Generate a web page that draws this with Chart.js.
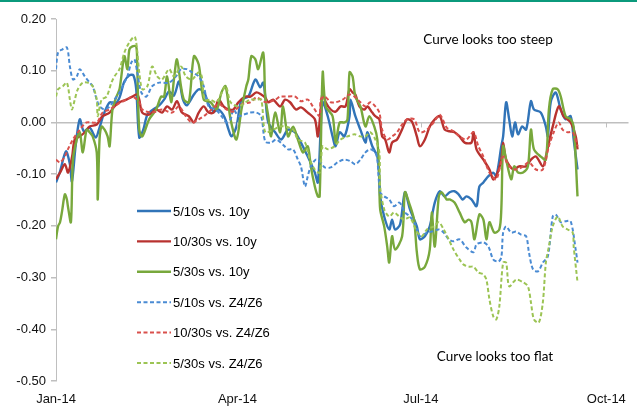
<!DOCTYPE html>
<html>
<head>
<meta charset="utf-8">
<script src="https://cdn.jsdelivr.net/npm/chart.js@4.4.1/dist/chart.umd.min.js"></script>
<style>
  html, body { margin: 0; padding: 0; background: #fff; }
  #wrap { width: 637px; height: 407px; position: relative; }
</style>
</head>
<body>
<div id="wrap"><canvas id="lineChart"></canvas></div>
<script>
// x values are days since 1 Jan 2014
var xTickDays = [0, 90, 181, 273];
var xTickLabels = ["Jan-14", "Apr-14", "Jul-14", "Oct-14"];
var seriesNames = ["5/10s vs. 10y", "10/30s vs. 10y", "5/30s vs. 10y", "5/10s vs. Z4/Z6", "10/30s vs. Z4/Z6", "5/30s vs. Z4/Z6"];

var s510Days = [0,2,4.9,6.9,7.9,9.8,11.8,13.8,16.7,19.7,21.6,23.6,26.6,29.5,31.5,33.9,36.4,38.4,39.8,41.3,43.3,45.3,48.2,51.2,53.6,56.1,58.5,61,63,64.9,68.4,70.8,73.3,75.7,78.2,80.7,83.6,85.6,87.1,89.5,92,95.4,98.9,101.3,102.8,103.8,105.3,108.7,111.7,115.1,118.5,121.5,124.9,128.4,129.9,131.3,132.3,134.8,137.2,138.7,140.7,143.1,145.6,146.1,148.5,151,153.5,154.5,156.9,159.4,160.4,160.8,162.8,165.3,166.7,168.2,170.7,173.1,175.6,179,180.5,183,185.4,187.9,190.4,192.8,195.3,197.7,199.7,201.7,203.6,206.1,208.6,210,212,214.5,216.9,218.4,220.9,221.8,223.3,224.8,226.3,227.7,229.2,231.2,233.2,235.6,237.1,240.5,243,244,245.4,247.9,250.4,252.8,255.3,256.8,258.7];
var s510Vals = [-0.116,-0.095,-0.056,-0.081,-0.114,-0.043,0.006,-0.017,-0.010,-0.029,-0.010,0.015,0.039,0.037,0.048,0.079,0.091,0.091,0.064,-0.029,-0.014,0.015,0.025,0.033,0.044,0.060,0.052,0.079,0.044,0.033,0.054,0.064,0.060,0.035,0.021,0.025,0.010,-0.014,-0.027,-0.008,0.044,0.050,0.083,0.068,0.077,0.050,0,-0.019,-0.033,-0.014,-0.019,-0.039,-0.066,-0.097,-0.116,-0.014,0.039,0.012,-0.027,-0.046,-0.019,-0.027,0.012,0.044,0.012,-0.014,-0.039,-0.019,-0.046,-0.066,-0.110,-0.143,-0.182,-0.207,-0.188,-0.207,-0.197,-0.135,-0.168,-0.201,-0.226,-0.220,-0.201,-0.155,-0.133,-0.143,-0.135,-0.133,-0.139,-0.149,-0.143,-0.149,-0.162,-0.124,-0.116,-0.104,-0.097,-0.104,-0.046,-0.027,0.039,0.006,-0.027,0,-0.023,-0.008,-0.014,0.041,0.025,0.019,-0.008,-0.027,0.039,0.058,0.025,0.006,0.012,-0.033,-0.091];

var s1030Days = [0,2,4.4,6,8,9.3,11.8,14.3,16.7,20.2,23.1,26.6,29,31.5,34.9,37.9,40.3,41.3,42.8,46.2,49.7,52.6,55.1,57.6,60,62.5,65.9,68.4,70.8,73.3,75.7,78.2,80.7,83.1,85.6,88,90.5,94,96.4,99.4,101.8,103.8,105.3,107.7,111.2,113.6,116.1,119,121.5,124.9,128.4,129.9,131.3,132.3,133.8,136.3,138.7,141.2,143.6,145.6,147.1,148.5,150.5,153,154.5,156.9,158.4,160.4,161.8,163.3,165.3,166.7,169.2,171.6,174.1,176.5,179,180.5,183,185.4,187.9,190.4,192.8,195.3,197.7,200.2,202.7,206.1,207.1,208.6,212,215,216.9,218.4,220.9,221.8,223.3,226.8,229.7,233.2,235.6,238.1,241.5,243,244.5,246.4,249.4,251.8,255.3,257.8,258.7];
var s1030Vals = [-0.110,-0.097,-0.081,-0.097,-0.066,-0.033,-0.027,-0.019,-0.008,-0.004,0.012,0.019,0.031,0.039,0.044,0.050,0.054,0.044,0.019,0.015,0.025,0.019,0.031,0.025,0.041,0.019,0.012,0,0.019,0.031,0.019,0.019,0.044,0.031,0.025,0.025,0.039,0.050,0.050,0.058,0.054,0.048,0.039,0.044,0.031,0.044,0.039,0.025,0.029,0.019,0.006,-0.027,0.025,0.058,0.039,0.025,0.021,0.031,0.031,0.064,0.058,0.054,0.031,0.025,0.031,0.019,0.012,0.006,-0.027,-0.033,-0.058,-0.039,-0.033,-0.014,0.006,0.002,-0.027,-0.046,-0.033,-0.008,0.006,0.012,-0.014,-0.017,-0.019,-0.027,-0.039,-0.039,-0.019,-0.052,-0.072,-0.091,-0.110,-0.104,-0.072,-0.039,-0.072,-0.091,-0.085,-0.085,-0.072,-0.066,-0.085,-0.066,-0.039,-0.008,0.031,0.012,0,-0.027,-0.052];

var s530Days = [0,1,2,3,4.4,5.4,5.9,7.4,8.4,10.3,11.8,13.3,15.2,16.7,18.2,20.2,20.7,21.6,22.6,24.1,25.6,26.6,28,30,31.5,33.9,35.4,36.4,37.9,39.8,40.3,41.3,42.8,46.2,49.7,52.1,53.6,55.1,57.1,58.5,60,62,63.5,65.9,68.4,70.8,73.3,76.7,79.7,82.1,84.1,86.6,89.5,92,94.4,95.4,96.9,98.9,100.3,102.8,103.8,105.3,106.7,108.7,111.2,112.6,115.1,117.6,120,122.5,124.9,126.4,128.4,129.9,130.8,132.3,133.8,137.2,138.7,140.7,143.1,144.6,145.6,147.1,148.5,151,153.5,155.4,157.9,159.4,160.4,160.8,162.8,164.3,165.3,166.7,168.2,171.7,173.1,175.1,177.6,179,180.5,183,185.4,186.4,187.9,189.9,191.3,193.8,195.3,197.7,200.2,202.7,204.6,206.1,207.6,210,212,213.5,215,217.4,219.9,220.9,221.8,223.3,225.8,227.3,229.2,231.7,234.1,235.6,237.1,240.5,243,244.5,246.4,248.9,250.4,252.8,255.3,256.8,258.7];
var s530Vals = [-0.226,-0.201,-0.193,-0.172,-0.139,-0.149,-0.162,-0.193,-0.072,-0.033,-0.019,-0.058,-0.014,-0.019,-0.027,-0.058,-0.149,-0.033,-0.008,-0.014,-0.027,-0.046,0.025,0.050,0.064,0.128,0.103,0.141,0.147,0.147,0.108,-0.014,-0.027,0.006,0.025,0.050,0.050,0.089,0.039,0.083,0.122,0.070,0.044,0.039,0.128,0.112,0.044,0.039,0.025,0.058,0.070,0.006,-0.033,0.025,0.070,0.083,0.128,0.122,0.103,0.135,0.050,0.012,-0.027,0.019,-0.019,0.031,-0.027,-0.008,-0.033,-0.058,-0.046,-0.085,-0.124,-0.143,-0.143,0.097,0.031,0.012,-0.039,0,0,0.006,0.097,0.089,0.050,0.031,-0.008,0.012,-0.008,-0.033,-0.110,-0.168,-0.201,-0.240,-0.271,-0.220,-0.246,-0.220,-0.135,-0.155,-0.188,-0.251,-0.284,-0.279,-0.246,-0.174,-0.240,-0.143,-0.135,-0.149,-0.149,-0.155,-0.174,-0.193,-0.188,-0.193,-0.226,-0.178,-0.188,-0.226,-0.193,-0.213,-0.207,-0.168,-0.046,-0.072,-0.110,-0.085,-0.097,-0.097,-0.085,-0.014,-0.052,-0.066,-0.072,0.025,0.064,0.064,0.050,0.012,0.006,-0.008,-0.143];

var z510Days = [0,1,3,5.4,6.9,8.4,10.3,11.8,14.3,16.7,18.2,20.2,21.6,24.1,26.6,29,31.5,33.9,35.4,37.4,38.9,40.3,42.3,44.8,47.7,51.2,56.1,59.5,62,64.9,67.4,70.8,73.3,75.7,79.2,82.1,84.6,86.6,88,90.5,93,96.4,99.4,101.8,103.8,106.7,109.2,112.6,115.1,117.6,120,121.5,123.5,124.9,126.4,128.9,131.3,133.3,136.3,139.7,143.1,146.1,148.5,151,153.5,155.9,158.4,159.4,160.8,162.8,165.3,167.7,170.2,171.7,173.1,175.6,178.1,180.5,184,186.4,189.9,192.3,194.8,197.2,200.2,203.6,207.1,208.6,212,214.5,216.9,219.4,220.9,221.8,223.3,225.8,228.2,230.7,233.2,234.6,236.6,239.1,241.5,244,246.4,247.9,250.4,252.8,255.3,257.8,258.7];
var z510Vals = [0.103,0.135,0.141,0.145,0.108,0.083,0.089,0.103,0.089,0.077,0.070,0.044,0.031,0.025,0.031,0.044,0.058,0.077,0.089,0.116,0.122,0.097,0.058,0.050,0.070,0.077,0.077,0.089,0.103,0.103,0.097,0.089,0.070,0.031,0.025,0.012,0,0.006,0.025,0.012,0.015,0.019,0.019,0.012,-0.037,-0.039,-0.033,-0.043,-0.052,-0.052,-0.072,-0.085,-0.124,-0.104,-0.085,-0.072,-0.077,-0.087,-0.087,-0.077,-0.072,-0.075,-0.081,-0.072,-0.058,-0.052,-0.058,-0.072,-0.135,-0.143,-0.149,-0.162,-0.155,-0.162,-0.174,-0.182,-0.197,-0.220,-0.213,-0.211,-0.207,-0.213,-0.226,-0.230,-0.226,-0.242,-0.251,-0.236,-0.232,-0.240,-0.265,-0.269,-0.261,-0.213,-0.201,-0.213,-0.211,-0.217,-0.220,-0.251,-0.284,-0.288,-0.271,-0.259,-0.182,-0.178,-0.193,-0.191,-0.191,-0.246,-0.271];

var z1030Days = [0,2,4.4,5.9,8.4,11.8,15.2,20.2,23.1,26.6,30.5,34.9,37.9,41.3,42.8,47.7,52.6,57.6,61,64.4,67.4,70.8,74.3,77.2,80.7,84.6,88,92,96.4,99.4,104.3,108.7,111.2,113.6,118.5,121.5,124.9,127.4,130.8,131.3,133.3,136.3,138.7,142.2,145.6,148.1,151,153.5,155.9,158.4,160.4,161.8,164.3,166.7,169.2,171.7,174.1,177.6,180.5,184,187.4,190.4,193.8,197.2,200.2,203.6,207.1,209.5,212,215,218.4,221.8,224.8,228.2,231.7,234.6,238.1,241.5,244.5,246.9,249.4,251.3,253.8,256.3,258.7];
var z1030Vals = [-0.072,-0.077,-0.066,-0.052,-0.033,-0.014,0,0,0.019,0.025,0.035,0.044,0.050,0.039,0.025,0.019,0.025,0.019,0.031,0.012,0,0.006,0.015,0.025,0.035,0.025,0.021,0.035,0.039,0.048,0.039,0.044,0.050,0.050,0.050,0.041,0.044,0.031,0.012,0.044,0.050,0.039,0.039,0.044,0.054,0.050,0.039,0.031,0.039,0.031,0.019,-0.014,-0.033,-0.027,-0.019,-0.004,0.006,0.006,-0.019,-0.014,0,0.015,-0.010,-0.017,-0.027,-0.033,-0.019,-0.046,-0.066,-0.097,-0.110,-0.066,-0.085,-0.091,-0.085,-0.077,-0.091,-0.091,-0.046,-0.019,0,-0.014,-0.019,-0.019,-0.046];

var z530Days = [0,1,3.4,5.4,6.9,7.9,9.3,10.8,13.3,15.7,18.2,20.2,20.7,22.6,25.1,27.5,29,31.5,33.9,36.4,38.9,39.8,41.3,42.8,45.3,47.7,50.2,52.6,56.1,58.5,62,64.4,67.4,70.8,72.3,73.8,76.7,79.7,84.1,86.6,90.5,94,96.4,99.4,101.8,103.8,107.7,111.2,113.6,117.6,120,123.5,125.9,128.4,130.8,132.3,134.8,138.2,141.2,144.6,148.1,151,153.5,155.9,158.4,160.4,160.8,162.8,165.3,167.7,170.2,172.6,175.6,179,181.5,184,187.4,189.9,192.3,194.8,197.2,200.2,202.2,205.1,207.1,209.5,212,213.5,215,216.9,218.4,219.9,221.8,223.3,224.8,228.2,231.7,234.1,235.6,237.1,239.5,241.5,243,244.5,246.4,248.9,251.3,253.8,256.3,256.8,258.7];
var z530Vals = [0.050,0.064,0.070,0.077,0.044,0.025,0.044,0.064,0.077,0.077,0.070,0.044,0.012,0.044,0.050,0.077,0.089,0.103,0.135,0.155,0.166,0.155,0.097,0.064,0.070,0.108,0.089,0.083,0.103,0.089,0.108,0.089,0.083,0.097,0.089,0.044,0.044,0.039,0.070,0.039,0.031,0.039,0.044,0.044,0.044,-0.019,-0.014,-0.008,-0.008,-0.014,-0.033,-0.039,-0.072,-0.091,-0.097,-0.046,-0.052,-0.046,-0.033,-0.027,-0.023,-0.027,-0.027,-0.019,-0.033,-0.058,-0.124,-0.168,-0.182,-0.174,-0.182,-0.188,-0.184,-0.211,-0.220,-0.207,-0.201,-0.193,-0.207,-0.226,-0.246,-0.265,-0.275,-0.279,-0.279,-0.290,-0.294,-0.304,-0.342,-0.375,-0.381,-0.356,-0.271,-0.271,-0.317,-0.304,-0.309,-0.317,-0.348,-0.381,-0.387,-0.348,-0.271,-0.240,-0.201,-0.182,-0.201,-0.207,-0.213,-0.240,-0.309];

function pts(days, vals) {
  return days.map(function (d, i) { return { x: d, y: vals[i] }; });
}

var colors = ['#3174b8', '#b8322f', '#78a83c', '#4a8bd3', '#d9504c', '#9cc454'];
var allDays = [s510Days, s1030Days, s530Days, z510Days, z1030Days, z530Days];
var allVals = [s510Vals, s1030Vals, s530Vals, z510Vals, z1030Vals, z530Vals];

var datasets = seriesNames.map(function (name, i) {
  var dashed = i >= 3;
  return {
    label: name,
    data: pts(allDays[i], allVals[i]),
    borderColor: colors[i],
    backgroundColor: colors[i],
    borderWidth: dashed ? 2 : 2.4,
    borderDash: dashed ? [4, 2.5] : [],
    pointRadius: 0,
    tension: 0.3,
    fill: false,
    order: 5 - i
  };
});

// legend inside the plot, notes, top rule and small x ticks on the zero line
var extras = {
  id: 'extras',
  beforeDraw: function (chart) {
    var c = chart.ctx;
    c.save();
    c.fillStyle = '#fff';
    c.fillRect(0, 0, chart.width, chart.height);
    c.fillStyle = '#0b9a7c';
    c.fillRect(0, 0, chart.width, 2);
    c.restore();
  },
  afterDraw: function (chart) {
    var c = chart.ctx;
    var xs = chart.scales.x, ys = chart.scales.y;
    var zy = ys.getPixelForValue(0);
    c.save();
    c.strokeStyle = '#bfbfbf';
    c.lineWidth = 1;
    xTickDays.slice(1).forEach(function (d) {
      var px = Math.round(xs.getPixelForValue(d)) + 0.5;
      c.beginPath(); c.moveTo(px, zy); c.lineTo(px, zy + 5); c.stroke();
    });
    c.font = '13px "Liberation Sans", Arial, sans-serif';
    c.textBaseline = 'middle';
    c.fillStyle = '#000';
    chart.data.datasets.forEach(function (ds, i) {
      var y = 211 + i * 30.4;
      c.strokeStyle = ds.borderColor;
      c.lineWidth = ds.borderWidth;
      c.setLineDash(ds.borderDash);
      c.beginPath(); c.moveTo(137, y); c.lineTo(171, y); c.stroke();
      c.setLineDash([]);
      c.fillText(ds.label, 173, y + 1);
    });
    c.font = '13.5px Lato, "Open Sans", sans-serif';
    c.textAlign = 'center';
    c.fillText('Curve looks too steep', 488, 40);
    c.fillText('Curve looks too flat', 495, 357);
    c.restore();
  }
};

var ctxL = document.getElementById("lineChart").getContext('2d');
var myLineChart = new Chart(ctxL, {
  type: 'line',
  data: { datasets: datasets },
  plugins: [extras],
  options: {
    responsive: true,
    maintainAspectRatio: false,
    animation: false,
    layout: { padding: { top: 19, right: 4, left: 0, bottom: 0 } },
    plugins: { legend: { display: false }, tooltip: { enabled: false } },
    scales: {
      x: {
        type: 'linear',
        min: 0,
        max: 284,
        grid: { display: false, drawTicks: false },
        border: { display: false },
        afterBuildTicks: function (scale) {
          scale.ticks = xTickDays.map(function (d) { return { value: d }; });
        },
        afterFit: function (scale) { scale.height = 26; },
        ticks: {
          autoSkip: false,
          maxRotation: 0,
          padding: 11,
          color: '#111',
          font: { family: '"Liberation Sans", Arial, sans-serif', size: 13 },
          callback: function (v) {
            var k = xTickDays.indexOf(v);
            return k >= 0 ? xTickLabels[k] : '';
          }
        }
      },
      y: {
        min: -0.5,
        max: 0.2,
        afterFit: function (scale) { scale.width = 56; },
        border: { display: true, color: '#bfbfbf', width: 1 },
        grid: {
          color: function (ctx) { return ctx.tick && Math.abs(ctx.tick.value) < 1e-9 ? '#bfbfbf' : 'rgba(0,0,0,0)'; },
          lineWidth: 1.5,
          tickColor: '#bfbfbf',
          tickLength: 5
        },
        ticks: {
          stepSize: 0.1,
          padding: 5,
          color: '#111',
          font: { family: '"Liberation Sans", Arial, sans-serif', size: 13 },
          callback: function (v) { return Math.abs(v) < 1e-9 ? '0.00' : v.toFixed(2); }
        }
      }
    }
  }
});
</script>
</body>
</html>
